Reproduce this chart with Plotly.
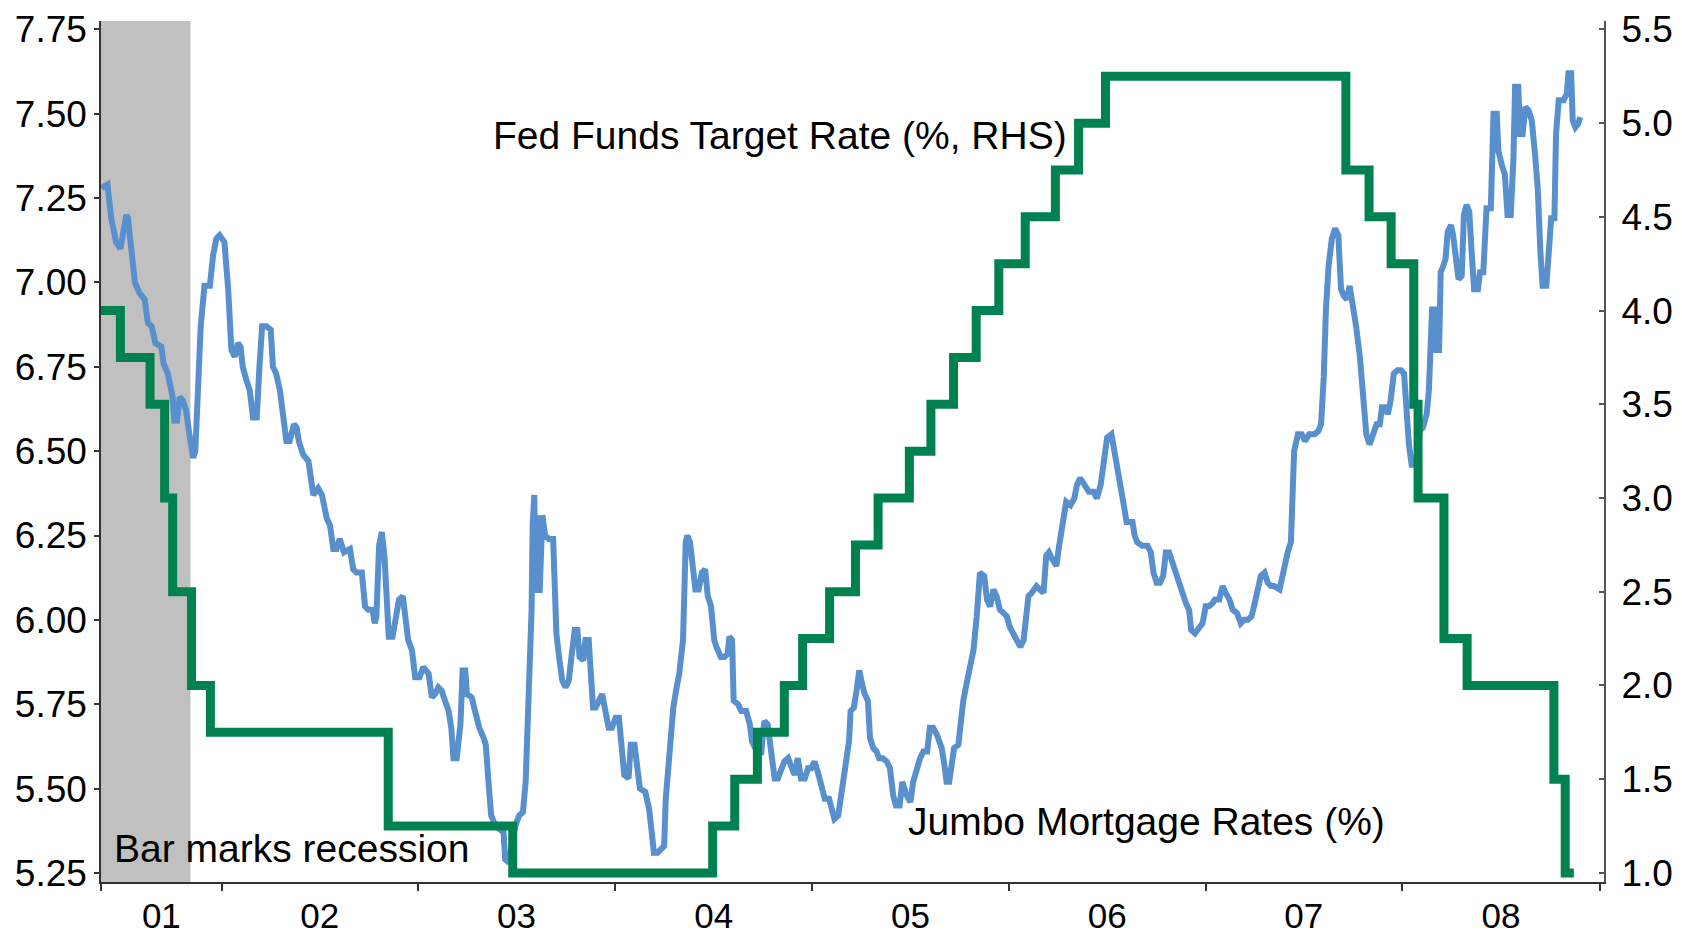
import plotly.graph_objects as go

# Jumbo mortgage rates (%), weekly
mort_dates = [
    "2001-05-23", "2001-06-03", "2001-06-10", "2001-06-19", "2001-06-27", "2001-07-08", "2001-07-11",
    "2001-07-18", "2001-07-24", "2001-08-01", "2001-08-11", "2001-08-17", "2001-08-24", "2001-08-31",
    "2001-09-11", "2001-09-15", "2001-09-23", "2001-10-02", "2001-10-05", "2001-10-10", "2001-10-15",
    "2001-10-21", "2001-10-27", "2001-11-02", "2001-11-09", "2001-11-13", "2001-11-18", "2001-11-23",
    "2001-11-30", "2001-12-10", "2001-12-16", "2001-12-22", "2001-12-28", "2002-01-06", "2002-01-13",
    "2002-01-19", "2002-01-25", "2002-01-31", "2002-02-05", "2002-02-09", "2002-02-16", "2002-02-22",
    "2002-02-28", "2002-03-07", "2002-03-12", "2002-03-17", "2002-03-25", "2002-04-02", "2002-04-06",
    "2002-04-12", "2002-04-19", "2002-04-25", "2002-05-01", "2002-05-07", "2002-05-15", "2002-05-20",
    "2002-05-24", "2002-06-01", "2002-06-11", "2002-06-20", "2002-06-29", "2002-07-06", "2002-07-15",
    "2002-07-21", "2002-07-27", "2002-08-02", "2002-08-08", "2002-08-16", "2002-08-27", "2002-09-02",
    "2002-09-08", "2002-09-18", "2002-09-24", "2002-09-30", "2002-10-08", "2002-10-12", "2002-10-15",
    "2002-10-20", "2002-10-25", "2002-10-30", "2002-11-03", "2002-11-07", "2002-11-14", "2002-11-19",
    "2002-11-26", "2002-12-03", "2002-12-07", "2002-12-13", "2002-12-20", "2002-12-26", "2003-01-03",
    "2003-01-10", "2003-01-20", "2003-01-26", "2003-02-01", "2003-02-07", "2003-02-13", "2003-02-20",
    "2003-02-26", "2003-03-03", "2003-03-07", "2003-03-13", "2003-03-20", "2003-03-24", "2003-03-29",
    "2003-04-01", "2003-04-10", "2003-04-16", "2003-04-24", "2003-05-02", "2003-05-06", "2003-05-11",
    "2003-05-16", "2003-05-24", "2003-06-02", "2003-06-08", "2003-06-11", "2003-06-18", "2003-06-24",
    "2003-06-30", "2003-07-07", "2003-07-14", "2003-07-19", "2003-07-22", "2003-07-26", "2003-07-30",
    "2003-08-01", "2003-08-04", "2003-08-07", "2003-08-11", "2003-08-14", "2003-08-19", "2003-08-24",
    "2003-08-31", "2003-09-08", "2003-09-11", "2003-09-14", "2003-09-19", "2003-09-25", "2003-10-01",
    "2003-10-07", "2003-10-12", "2003-10-18", "2003-10-23", "2003-10-27", "2003-11-03", "2003-11-07",
    "2003-11-13", "2003-11-16", "2003-11-21", "2003-11-26", "2003-12-03", "2003-12-08", "2003-12-14",
    "2003-12-20", "2003-12-26", "2004-01-02", "2004-01-08", "2004-01-13", "2004-01-18", "2004-01-26",
    "2004-01-30", "2004-02-06", "2004-02-11", "2004-02-16", "2004-02-26", "2004-03-04", "2004-03-09",
    "2004-03-13", "2004-03-20", "2004-03-26", "2004-04-01", "2004-04-04", "2004-04-09", "2004-04-13",
    "2004-04-18", "2004-04-23", "2004-04-29", "2004-05-06", "2004-05-08", "2004-05-11", "2004-05-14",
    "2004-05-19", "2004-05-24", "2004-05-29", "2004-06-04", "2004-06-10", "2004-06-16", "2004-06-21",
    "2004-06-27", "2004-07-03", "2004-07-07", "2004-07-15", "2004-07-22", "2004-07-28", "2004-07-31",
    "2004-08-05", "2004-08-08", "2004-08-16", "2004-08-22", "2004-08-31", "2004-09-07", "2004-09-11",
    "2004-09-17", "2004-09-22", "2004-09-28", "2004-10-01", "2004-10-04", "2004-10-10", "2004-10-17",
    "2004-10-23", "2004-10-29", "2004-11-04", "2004-11-10", "2004-11-17", "2004-11-23", "2004-11-29",
    "2004-12-05", "2004-12-11", "2004-12-18", "2004-12-24", "2004-12-30", "2005-01-05", "2005-01-11",
    "2005-01-18", "2005-01-24", "2005-02-01", "2005-02-05", "2005-02-11", "2005-02-18", "2005-02-22",
    "2005-02-27", "2005-03-05", "2005-03-10", "2005-03-13", "2005-03-19", "2005-03-24", "2005-03-29",
    "2005-04-02", "2005-04-08", "2005-04-14", "2005-04-18", "2005-04-24", "2005-04-30", "2005-05-05",
    "2005-05-12", "2005-05-19", "2005-05-25", "2005-05-31", "2005-06-05", "2005-06-12", "2005-06-17",
    "2005-06-25", "2005-07-02", "2005-07-07", "2005-07-13", "2005-07-20", "2005-07-26", "2005-08-02",
    "2005-08-07", "2005-08-13", "2005-08-20", "2005-08-29", "2005-09-04", "2005-09-07", "2005-09-12",
    "2005-09-17", "2005-09-21", "2005-09-29", "2005-10-03", "2005-10-08", "2005-10-14", "2005-10-21",
    "2005-10-27", "2005-11-02", "2005-11-05", "2005-11-08", "2005-11-16", "2005-11-21", "2005-11-27",
    "2005-12-03", "2005-12-09", "2005-12-15", "2005-12-22", "2005-12-28", "2006-01-02", "2006-01-09",
    "2006-01-16", "2006-01-22", "2006-01-28", "2006-02-02", "2006-02-06", "2006-02-12", "2006-02-21",
    "2006-02-27", "2006-03-06", "2006-03-11", "2006-03-16", "2006-03-22", "2006-03-30", "2006-04-03",
    "2006-04-07", "2006-04-12", "2006-04-17", "2006-04-25", "2006-05-02", "2006-05-07", "2006-05-13",
    "2006-05-21", "2006-05-29", "2006-06-07", "2006-06-13", "2006-06-20", "2006-06-26", "2006-07-02",
    "2006-07-10", "2006-07-16", "2006-07-22", "2006-07-30", "2006-08-03", "2006-08-07", "2006-08-18",
    "2006-08-22", "2006-08-27", "2006-09-05", "2006-09-15", "2006-09-21", "2006-09-26", "2006-10-02",
    "2006-10-08", "2006-10-14", "2006-10-19", "2006-10-25", "2006-10-31", "2006-11-06", "2006-11-13",
    "2006-11-17", "2006-11-25", "2006-12-01", "2006-12-05", "2006-12-12", "2006-12-20", "2006-12-26",
    "2007-01-01", "2007-01-07", "2007-01-14", "2007-01-18", "2007-01-26", "2007-02-01", "2007-02-07",
    "2007-02-14", "2007-02-20", "2007-02-28", "2007-03-07", "2007-03-13", "2007-03-20", "2007-03-27",
    "2007-04-02", "2007-04-07", "2007-04-13", "2007-04-20", "2007-04-26", "2007-05-02", "2007-05-08",
    "2007-05-18", "2007-05-22", "2007-05-28", "2007-06-02", "2007-06-08", "2007-06-11", "2007-06-14",
    "2007-06-21", "2007-06-28", "2007-07-04", "2007-07-12", "2007-07-22", "2007-07-29", "2007-08-03",
    "2007-08-08", "2007-08-12", "2007-08-17", "2007-08-23", "2007-08-29", "2007-09-04", "2007-09-09",
    "2007-09-14", "2007-09-20", "2007-09-25", "2007-10-01", "2007-10-07", "2007-10-14", "2007-10-20",
    "2007-10-26", "2007-11-01", "2007-11-07", "2007-11-14", "2007-11-20", "2007-11-24", "2007-11-30",
    "2007-12-05", "2007-12-10", "2007-12-16", "2007-12-23", "2007-12-29", "2008-01-04", "2008-01-08",
    "2008-01-13", "2008-01-18", "2008-01-24", "2008-01-29", "2008-02-02", "2008-02-08", "2008-02-15",
    "2008-02-19", "2008-02-23", "2008-02-25", "2008-03-01", "2008-03-04", "2008-03-09", "2008-03-12",
    "2008-03-17", "2008-03-21", "2008-03-25", "2008-03-31", "2008-04-04", "2008-04-09", "2008-04-14",
    "2008-04-20", "2008-04-24", "2008-04-29", "2008-05-04", "2008-05-08", "2008-05-13", "2008-05-20",
    "2008-05-24", "2008-05-30", "2008-06-05", "2008-06-13", "2008-06-18", "2008-06-24", "2008-06-27",
    "2008-07-03", "2008-07-09", "2008-07-14", "2008-07-20", "2008-07-25", "2008-07-28", "2008-08-03",
    "2008-08-06", "2008-08-11", "2008-08-16", "2008-08-22", "2008-08-28", "2008-09-03", "2008-09-08",
    "2008-09-13", "2008-09-17", "2008-09-24", "2008-09-28", "2008-10-03", "2008-10-09", "2008-10-12",
    "2008-10-17", "2008-10-26", "2008-11-01", "2008-11-04", "2008-11-09", "2008-11-12", "2008-11-17",
    "2008-11-22", "2008-11-26",
]
mort_rates = [
    7.28, 7.29, 7.19, 7.12, 7.10, 7.20, 7.19,
    7.07, 7.00, 6.97, 6.95, 6.88, 6.87, 6.82,
    6.81, 6.76, 6.73, 6.66, 6.59, 6.59, 6.66,
    6.65, 6.62, 6.55, 6.48, 6.50, 6.71, 6.87,
    6.99, 6.99, 7.08, 7.13, 7.14, 7.12, 6.98,
    6.80, 6.78, 6.82, 6.81, 6.75, 6.71, 6.68,
    6.60, 6.60, 6.75, 6.87, 6.87, 6.86, 6.75,
    6.73, 6.68, 6.61, 6.53, 6.53, 6.58, 6.57,
    6.53, 6.49, 6.47, 6.37, 6.39, 6.37, 6.30,
    6.28, 6.21, 6.21, 6.24, 6.20, 6.21, 6.15,
    6.14, 6.14, 6.04, 6.03, 6.03, 5.99, 6.01,
    6.22, 6.26, 6.19, 6.01, 5.95, 5.95, 5.99,
    6.06, 6.07, 6.01, 5.94, 5.91, 5.83, 5.83,
    5.86, 5.84, 5.77, 5.78, 5.80, 5.79, 5.76,
    5.73, 5.68, 5.59, 5.59, 5.69, 5.85, 5.85,
    5.78, 5.77, 5.73, 5.68, 5.65, 5.63, 5.52,
    5.42, 5.39, 5.38, 5.37, 5.29, 5.28, 5.34,
    5.39, 5.42, 5.43, 5.52, 5.68, 5.79, 6.03,
    6.28, 6.37, 6.08, 6.31, 6.08, 6.31, 6.25,
    6.24, 6.24, 6.11, 5.96, 5.89, 5.82, 5.80,
    5.82, 5.89, 5.97, 5.97, 5.89, 5.88, 5.94,
    5.94, 5.84, 5.74, 5.74, 5.77, 5.78, 5.73,
    5.68, 5.68, 5.71, 5.71, 5.61, 5.54, 5.53,
    5.63, 5.63, 5.55, 5.50, 5.49, 5.44, 5.37,
    5.31, 5.31, 5.32, 5.33, 5.47, 5.59, 5.62,
    5.74, 5.79, 5.84, 5.94, 6.11, 6.23, 6.25,
    6.23, 6.16, 6.09, 6.09, 6.14, 6.15, 6.07,
    6.04, 5.94, 5.92, 5.89, 5.89, 5.90, 5.95,
    5.94, 5.76, 5.75, 5.73, 5.73, 5.69, 5.64,
    5.62, 5.61, 5.60, 5.66, 5.70, 5.69, 5.61,
    5.53, 5.53, 5.56, 5.58, 5.59, 5.56, 5.54,
    5.59, 5.53, 5.53, 5.56, 5.56, 5.58, 5.55,
    5.50, 5.47, 5.47, 5.44, 5.41, 5.42, 5.47,
    5.52, 5.58, 5.64, 5.73, 5.74, 5.79, 5.85,
    5.82, 5.78, 5.76, 5.65, 5.62, 5.61, 5.59,
    5.59, 5.58, 5.56, 5.48, 5.45, 5.45, 5.52,
    5.48, 5.46, 5.52, 5.56, 5.59, 5.61, 5.61,
    5.68, 5.68, 5.66, 5.62, 5.56, 5.52, 5.52,
    5.58, 5.62, 5.63, 5.71, 5.76, 5.81, 5.86,
    5.91, 6.01, 6.11, 6.14, 6.13, 6.06, 6.04,
    6.09, 6.07, 6.03, 6.02, 6.01, 5.98, 5.96,
    5.94, 5.92, 5.94, 6.02, 6.07, 6.08, 6.10,
    6.09, 6.08, 6.19, 6.20, 6.18, 6.16, 6.21,
    6.25, 6.29, 6.35, 6.34, 6.36, 6.40, 6.42,
    6.40, 6.38, 6.38, 6.36, 6.40, 6.48, 6.54,
    6.55, 6.50, 6.45, 6.38, 6.33, 6.29, 6.29,
    6.25, 6.23, 6.22, 6.22, 6.20, 6.14, 6.11,
    6.11, 6.13, 6.20, 6.20, 6.17, 6.14, 6.11,
    6.08, 6.05, 6.03, 5.97, 5.96, 5.98, 5.99,
    6.04, 6.04, 6.05, 6.06, 6.06, 6.10, 6.08,
    6.06, 6.03, 6.02, 5.99, 6.00, 6.00, 6.01,
    6.05, 6.09, 6.13, 6.14, 6.11, 6.10, 6.10,
    6.09, 6.12, 6.18, 6.20, 6.23, 6.36, 6.50,
    6.55, 6.55, 6.53, 6.55, 6.55, 6.56, 6.58,
    6.72, 6.92, 7.05, 7.13, 7.16, 7.14, 6.98,
    6.96, 6.95, 6.99, 6.94, 6.87, 6.78, 6.65,
    6.55, 6.52, 6.55, 6.58, 6.58, 6.63, 6.63,
    6.61, 6.65, 6.73, 6.74, 6.74, 6.73, 6.63,
    6.52, 6.46, 6.46, 6.50, 6.56, 6.57, 6.61,
    6.68, 6.80, 6.92, 6.92, 6.80, 6.80, 7.03,
    7.05, 7.07, 7.15, 7.17, 7.14, 7.05, 7.01,
    7.02, 7.20, 7.23, 7.21, 7.10, 6.98, 6.98,
    7.03, 7.03, 7.22, 7.22, 7.50, 7.50, 7.39,
    7.35, 7.32, 7.20, 7.20, 7.37, 7.58, 7.58,
    7.44, 7.44, 7.52, 7.51, 7.48, 7.38, 7.28,
    7.09, 6.99, 6.99, 7.08, 7.19, 7.19, 7.44,
    7.54, 7.54, 7.56, 7.62, 7.62, 7.48, 7.46,
    7.47, 7.49,
]

# Fed funds target rate (%, RHS), value from each change date on
fed_dates = [
    "2001-05-15", "2001-06-27", "2001-08-21", "2001-09-17", "2001-10-02", "2001-11-06",
    "2001-12-11", "2002-11-06", "2003-06-25", "2004-06-30", "2004-08-10", "2004-09-21",
    "2004-11-10", "2004-12-14", "2005-02-02", "2005-03-22", "2005-05-03", "2005-06-30",
    "2005-08-09", "2005-09-20", "2005-11-01", "2005-12-13", "2006-01-31", "2006-03-28",
    "2006-05-10", "2006-06-29", "2007-09-18", "2007-10-31", "2007-12-11", "2008-01-22",
    "2008-01-30", "2008-03-18", "2008-04-30", "2008-10-08", "2008-10-29", "2008-11-14",
]
fed_rates = [
    4.00, 3.75, 3.50, 3.00, 2.50, 2.00,
    1.75, 1.25, 1.00, 1.25, 1.50, 1.75,
    2.00, 2.25, 2.50, 2.75, 3.00, 3.25,
    3.50, 3.75, 4.00, 4.25, 4.50, 4.75,
    5.00, 5.25, 4.75, 4.50, 4.25, 3.50,
    3.00, 2.25, 2.00, 1.50, 1.00, 1.00,
]

recession = ["2001-05-22", "2001-11-04"]
x_range = ["2001-05-22", "2009-01-09"]

year_ticks = ["2001-05-22"] + ["%d-01-01" % y for y in range(2002, 2010)]
year_label_pos = ["2001-09-11"] + ["%d-07-02" % y for y in range(2002, 2009)]
year_labels = ["01", "02", "03", "04", "05", "06", "07", "08"]

left_ticks = [5.25, 5.50, 5.75, 6.00, 6.25, 6.50, 6.75, 7.00, 7.25, 7.50, 7.75]
right_ticks = [1.0, 1.5, 2.0, 2.5, 3.0, 3.5, 4.0, 4.5, 5.0, 5.5]

FONT = "Liberation Sans, Arial, sans-serif"
GREEN = "#008250"
BLUE = "#5890CE"

fig = go.Figure()

fig.add_trace(go.Scatter(
    x=fed_dates, y=fed_rates, yaxis="y2", mode="lines",
    line=dict(color=GREEN, width=9, shape="hv"),
    name="Fed Funds Target Rate",
))
fig.add_trace(go.Scatter(
    x=mort_dates, y=mort_rates, mode="lines",
    line=dict(color=BLUE, width=6),
    name="Jumbo Mortgage Rates",
))
# carrier for the centred year labels
fig.add_trace(go.Scatter(
    x=mort_dates, y=mort_rates, xaxis="x2", mode="lines",
    line=dict(width=0), hoverinfo="skip", showlegend=False,
))

fig.add_shape(type="rect", xref="x", yref="paper",
              x0=recession[0], x1=recession[1], y0=0, y1=1,
              fillcolor="#C0C0C0", line=dict(width=0), layer="below")

fig.update_layout(
    width=1682, height=938,
    margin=dict(l=101, r=78, t=21, b=56),
    paper_bgcolor="white", plot_bgcolor="white",
    showlegend=False,
    font=dict(family=FONT, size=37, color="black"),
    xaxis=dict(
        type="date", range=x_range, tickvals=year_ticks, showticklabels=False,
        ticks="outside", ticklen=7, tickwidth=1.5, tickcolor="#333333", automargin=False,
        showline=True, linecolor="#333333", linewidth=1.5, showgrid=False, zeroline=False,
    ),
    xaxis2=dict(
        type="date", range=x_range, overlaying="x", anchor="y", side="bottom",
        tickvals=year_label_pos, ticktext=year_labels, automargin=False,
        ticks="outside", ticklen=3, tickcolor="rgba(0,0,0,0)", tickfont=dict(size=35),
        showline=False, showgrid=False, zeroline=False,
    ),
    yaxis=dict(
        range=[5.223, 7.775], tickvals=left_ticks, tickformat=".2f", automargin=False,
        ticks="outside", ticklen=5, tickwidth=1.5, tickcolor="#333333",
        ticklabelstandoff=0,
        showline=True, linecolor="#333333", linewidth=1.5, showgrid=False, zeroline=False,
    ),
    yaxis2=dict(
        range=[0.9514, 5.5450], tickvals=right_ticks, tickformat=".1f", automargin=False,
        overlaying="y", side="right", anchor="x",
        ticks="inside", ticklen=5, tickwidth=1.5, tickcolor="#555555",
        ticklabelstandoff=8,
        showline=True, linecolor="#555555", linewidth=2, showgrid=False, zeroline=False,
    ),
)

fig.add_annotation(text="Fed Funds Target Rate (%, RHS)", xref="paper", yref="paper",
                   x=0.2592, y=0.8670, xanchor="left", yanchor="middle",
                   showarrow=False, font=dict(size=39))
fig.add_annotation(text="Jumbo Mortgage Rates (%)", xref="paper", yref="paper",
                   x=0.5359, y=0.0697, xanchor="left", yanchor="middle",
                   showarrow=False, font=dict(size=39))
fig.add_annotation(text="Bar marks recession", xref="paper", yref="paper",
                   x=0.0075, y=0.0391, xanchor="left", yanchor="middle",
                   showarrow=False, font=dict(size=39))

# the page's default body margin would push the fixed-size figure off the window
fig.write_html("out.html", config={"displayModeBar": False},
               post_script="document.body.style.margin = '0';")
